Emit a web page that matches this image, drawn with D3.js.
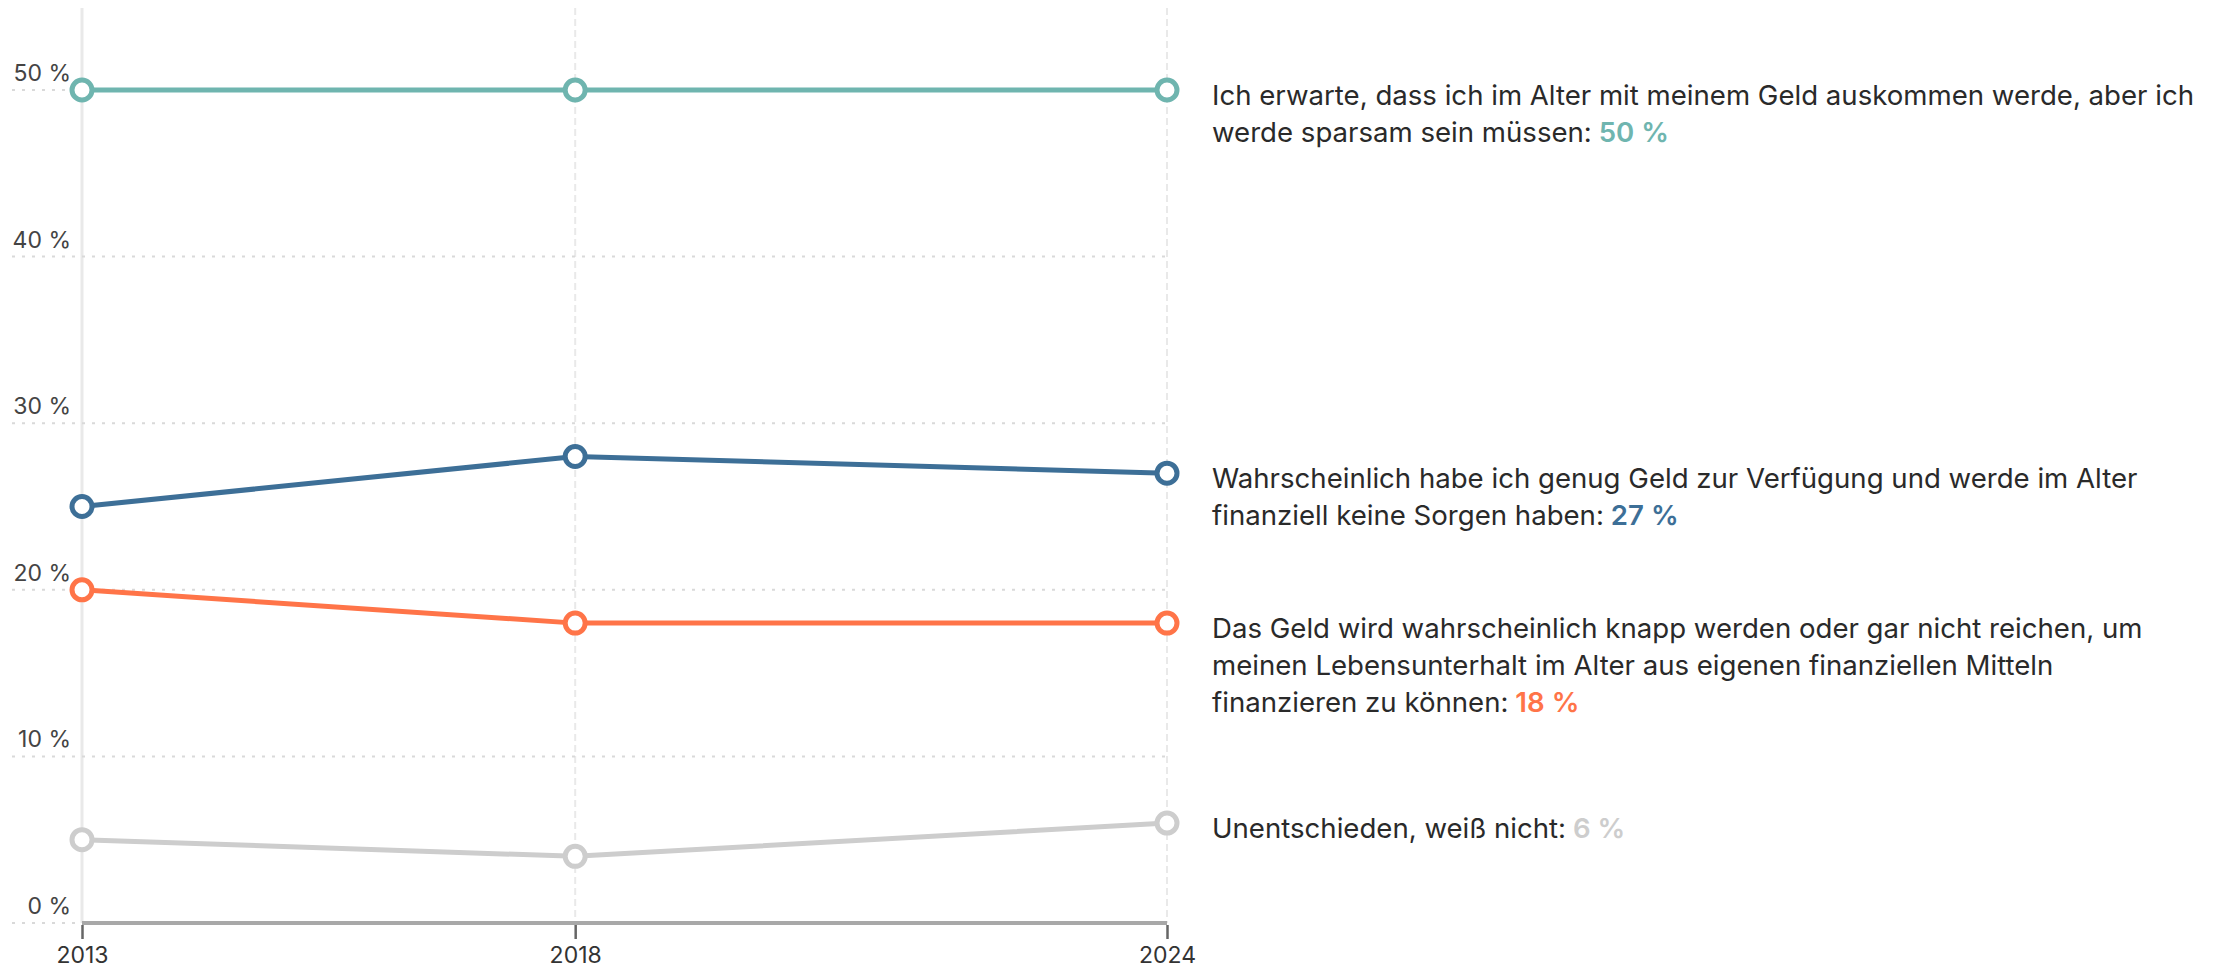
<!DOCTYPE html>
<html>
<head>
<meta charset="utf-8">
<script src="https://cdn.jsdelivr.net/npm/d3@7"></script>
<style>
  body { margin: 0; background: #fff; }
  svg { display: block; font-family: Inter, "Noto Sans", sans-serif; }
</style>
</head>
<body>
<script>
/* Data */
var years = [2013, 2018, 2024];
var yTicks = [0, 10, 20, 30, 40, 50];
var seriesNames = ["sparsam", "keineSorgen", "knapp", "unentschieden"];
var sparsam = [50, 50, 50];
var keineSorgen = [25, 28, 27];
var knapp = [20, 18, 18];
var unentschieden = [5, 4, 6];
var seriesColors = ["#6fb5af", "#3d6f97", "#ff7448", "#cdcdcd"];
var labelLines = [
  ["Ich erwarte, dass ich im Alter mit meinem Geld auskommen werde, aber ich", "werde sparsam sein müssen:"],
  ["Wahrscheinlich habe ich genug Geld zur Verfügung und werde im Alter", "finanziell keine Sorgen haben:"],
  ["Das Geld wird wahrscheinlich knapp werden oder gar nicht reichen, um", "meinen Lebensunterhalt im Alter aus eigenen finanziellen Mitteln", "finanzieren zu können:"],
  ["Unentschieden, weiß nicht:"]
];
var lastValues = ["50 %", "27 %", "18 %", "6 %"];

/* Layout */
const WIDTH = 2228;
const HEIGHT = 968;
var margin = {top: 8, left: 82, right: 1061, bottom: 45};

var svg = d3.select("body").append("svg")
    .attr("width", WIDTH)
    .attr("height", HEIGHT);

var x = d3.scaleLinear()
    .domain([2013, 2024])
    .range([margin.left, WIDTH - margin.right]);

var y = d3.scaleLinear()
    .domain([0, 50])
    .range([HEIGHT - margin.bottom, 90]);

// vertical grid at years
svg.append("g")
  .selectAll("line")
  .data(years)
  .join("line")
    .attr("x1", d => x(d))
    .attr("x2", d => x(d))
    .attr("y1", margin.top)
    .attr("y2", y(0))
    .attr("stroke", "#e9e9e9")
    .attr("stroke-width", d => d === 2013 ? 3 : 2)
    .attr("stroke-dasharray", d => d === 2013 ? null : "7,4");

// horizontal dotted grid
svg.append("g")
  .selectAll("line")
  .data(yTicks)
  .join("line")
    .attr("x1", 12)
    .attr("x2", x(2024))
    .attr("y1", d => y(d))
    .attr("y2", d => y(d))
    .attr("stroke", "#d9d9d9")
    .attr("stroke-width", 2)
    .attr("stroke-dasharray", "3,7");

// y labels
svg.append("g")
  .selectAll("text")
  .data(yTicks)
  .join("text")
    .attr("x", 71)
    .attr("y", d => y(d) - 9)
    .attr("text-anchor", "end")
    .attr("fill", "#444")
    .attr("font-size", 23)
    .text(d => d + " %");

// baseline
svg.append("line")
    .attr("x1", x(2013))
    .attr("x2", x(2024))
    .attr("y1", y(0))
    .attr("y2", y(0))
    .attr("stroke", "#a8a8a8")
    .attr("stroke-width", 4);

// x axis ticks + labels
var xAxis = svg.append("g")
    .attr("transform", "translate(0," + (y(0) + 2) + ")")
    .call(d3.axisBottom(x).tickValues(years).tickFormat(d3.format("d")).tickSize(14).tickPadding(8));
xAxis.select(".domain").remove();
xAxis.selectAll(".tick line").attr("stroke", "#666").attr("stroke-width", 2.5);
xAxis.selectAll(".tick text")
    .attr("fill", "#333")
    .attr("font-size", 23)
    .attr("font-family", "Inter, sans-serif");

// series
var allSeries = [sparsam, keineSorgen, knapp, unentschieden];
var line = d3.line()
    .x((d, i) => x(years[i]))
    .y(d => y(d));

var groups = svg.append("g")
  .selectAll("g")
  .data(allSeries)
  .join("g")
    .attr("class", (d, i) => seriesNames[i]);

groups.append("path")
    .attr("d", d => line(d))
    .attr("fill", "none")
    .attr("stroke", (d, i) => seriesColors[i])
    .attr("stroke-width", 5);

groups.each(function(vals, si) {
  d3.select(this).selectAll("circle")
    .data(vals)
    .join("circle")
      .attr("cx", (d, i) => x(years[i]))
      .attr("cy", d => y(d))
      .attr("r", 10)
      .attr("fill", "#fff")
      .attr("stroke", seriesColors[si])
      .attr("stroke-width", 5);
});

// labels at the right
var labelX = x(2024) + 45;
var lineH = 37;
allSeries.forEach(function(vals, si) {
  var last = vals[vals.length - 1];
  var t = svg.append("text")
      .attr("x", labelX)
      .attr("y", y(last) + 15)
      .attr("font-size", 27.6)
      .attr("fill", "#2a2a2a");
  var lines = labelLines[si];
  lines.forEach(function(l, li) {
    t.append("tspan")
        .attr("x", labelX)
        .attr("dy", li === 0 ? 0 : lineH)
        .text(l);
    if (li === lines.length - 1) {
      t.append("tspan")
          .attr("fill", seriesColors[si])
          .attr("font-weight", 600)
          .text(" " + lastValues[si]);
    }
  });
});
</script>
</body>
</html>
